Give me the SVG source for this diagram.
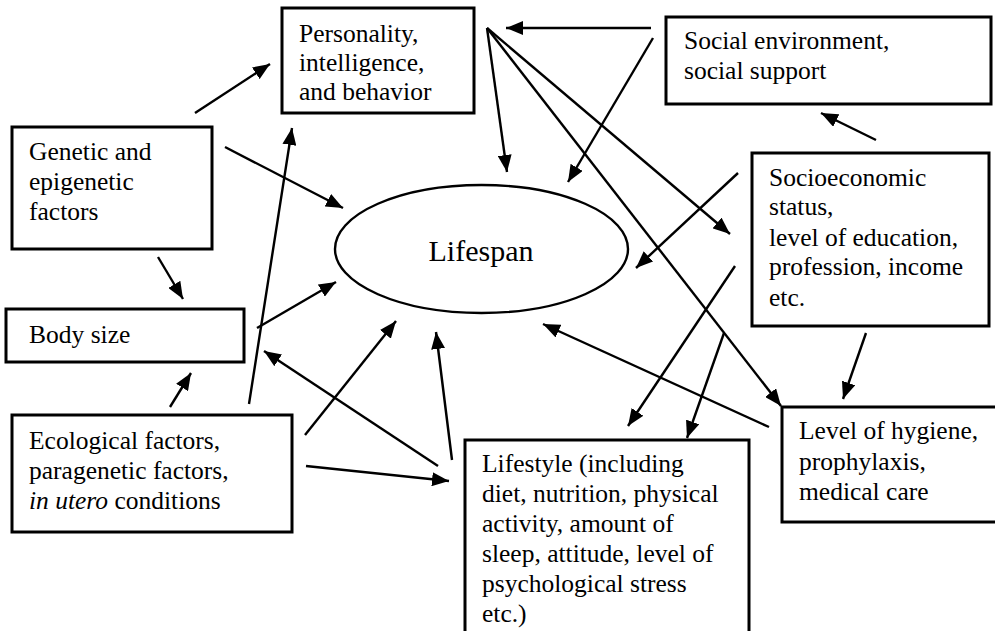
<svg xmlns="http://www.w3.org/2000/svg" width="995" height="631" viewBox="0 0 995 631" font-family="'Liberation Serif', 'DejaVu Serif', serif">
<style>
.box{fill:#fff;stroke:#000;stroke-width:3}
.t{font-family:'Liberation Serif','DejaVu Serif',serif;font-size:25.5px;fill:#000}
.c line{stroke:#000;stroke-width:2.4;marker-end:url(#ah)}
</style>
<defs>
<marker id="ah" markerUnits="userSpaceOnUse" markerWidth="18" markerHeight="14" refX="17" refY="7" orient="auto">
<path d="M0,0 L17,7 L0,14 z" fill="#000"/>
</marker>
</defs>
<rect width="995" height="631" fill="#fff"/>
<g id="lifespan">
<ellipse cx="481.5" cy="249" rx="146.5" ry="64" fill="none" stroke="#000" stroke-width="2.4"/>
<text class="t" x="481" y="261" text-anchor="middle" style="font-size:30px">Lifespan</text>
</g>
<g id="personality">
<rect class="box" x="282" y="8" width="192" height="105"/>
<text class="t" x="299" y="42">Personality,</text>
<text class="t" x="299" y="71">intelligence,</text>
<text class="t" x="299" y="100">and behavior</text>
</g>
<g id="genetic">
<rect class="box" x="12" y="127" width="200" height="122"/>
<text class="t" x="29" y="160">Genetic and</text>
<text class="t" x="29" y="190">epigenetic</text>
<text class="t" x="29" y="220">factors</text>
</g>
<g id="bodysize">
<rect class="box" x="6" y="309" width="238" height="53"/>
<text class="t" x="29" y="343">Body size</text>
</g>
<g id="ecological">
<rect class="box" x="12" y="415" width="280" height="117"/>
<text class="t" x="29" y="449">Ecological factors,</text>
<text class="t" x="29" y="479">paragenetic factors,</text>
<text class="t" x="29" y="509"><tspan font-style="italic">in utero</tspan> conditions</text>
</g>
<g id="social">
<rect class="box" x="666" y="17" width="325" height="87"/>
<text class="t" x="684" y="49">Social environment,</text>
<text class="t" x="684" y="79">social support</text>
</g>
<g id="socioeconomic">
<rect class="box" x="752" y="153" width="237" height="173"/>
<text class="t" x="769" y="186">Socioeconomic</text>
<text class="t" x="769" y="215">status,</text>
<text class="t" x="769" y="246">level of education,</text>
<text class="t" x="769" y="275">profession, income</text>
<text class="t" x="769" y="306">etc.</text>
</g>
<g id="hygiene">
<rect class="box" x="782" y="407" width="220" height="115"/>
<text class="t" x="799" y="439">Level of hygiene,</text>
<text class="t" x="799" y="470">prophylaxis,</text>
<text class="t" x="799" y="500">medical care</text>
</g>
<g id="lifestyle">
<rect class="box" x="465" y="440" width="284" height="200"/>
<text class="t" x="482" y="472">Lifestyle (including</text>
<text class="t" x="482" y="502">diet, nutrition, physical</text>
<text class="t" x="482" y="532">activity, amount of</text>
<text class="t" x="482" y="562">sleep, attitude, level of</text>
<text class="t" x="482" y="592">psychological stress</text>
<text class="t" x="482" y="622">etc.)</text>
</g>
<g id="connectors" class="c">
<line x1="195" y1="113" x2="270" y2="64"/>
<line x1="225" y1="147" x2="343" y2="208"/>
<line x1="158" y1="257" x2="183" y2="299"/>
<line x1="249" y1="404" x2="292" y2="128"/>
<line x1="257" y1="328" x2="336" y2="282"/>
<line x1="170" y1="407" x2="191" y2="373"/>
<line x1="305" y1="435" x2="396" y2="321"/>
<line x1="438" y1="466" x2="264" y2="351"/>
<line x1="452" y1="460" x2="436" y2="332"/>
<line x1="306" y1="466" x2="449" y2="481"/>
<line x1="651" y1="28" x2="506" y2="28"/>
<line x1="487" y1="28" x2="507" y2="172"/>
<line x1="487" y1="28" x2="730" y2="234"/>
<line x1="487" y1="28" x2="781" y2="406"/>
<line x1="653" y1="38" x2="568" y2="182"/>
<line x1="876" y1="140" x2="821" y2="113"/>
<line x1="738" y1="173" x2="636" y2="268"/>
<line x1="735" y1="266" x2="628" y2="426"/>
<line x1="724" y1="333" x2="687" y2="438"/>
<line x1="866" y1="333" x2="843" y2="399"/>
<line x1="769" y1="427" x2="543" y2="324"/>
</g>
</svg>
